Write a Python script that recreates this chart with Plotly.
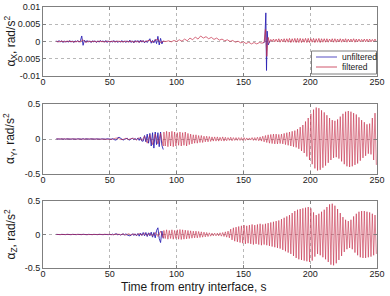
import numpy as np
import plotly.graph_objects as go

# ---------------- data ----------------
# alpha_X, rad/s^2
x_unf_t0, x_unf_dt = 10, 1.0
x_unf_pre = [0.0002, -0.0002, 0.0003, -0.0001, 0.0002, -0.0003, 0.0002, -0.0002, 0.0001, -0.0002,
             0.0003, -0.0002, 0.0002, -0.0003, 0.0002, -0.0001, 0.0003, -0.0002, 0.0002,
             0.0016, -0.0011, 0.0004,
             -0.0002, 0.0003, -0.0002, 0.0002, -0.0003, 0.0002, -0.0001, 0.0002, -0.0003, 0.0002,
             -0.0002, 0.0003, -0.0001, 0.0002, -0.0002, 0.0003, -0.0003, 0.0002, -0.0002, 0.0001,
             -0.0002, 0.0003, -0.0002, 0.0002, -0.0003, 0.0001, -0.0002, 0.0003, -0.0002, 0.0002,
             -0.0003, 0.0002, -0.0002, 0.0004, -0.0003, 0.0002, -0.0004, 0.0003, -0.0002, 0.0003,
             -0.0003, 0.0004, -0.0002, 0.0003, -0.0004, 0.0002, -0.0003, 0.0004,
             0.0008, -0.0005, 0.0003, -0.0004, 0.0006, -0.0006, 0.0015, -0.0010, 0.0009, -0.0007, 0.0002]
x_unf_spike_t = [165, 166, 166.8, 167.3, 167.8, 168.5, 170]
x_unf_spike = [-0.0005, 0.0, 0.0083, -0.0084, 0.0030, -0.0010, 0.0002]

x_fil_t0, x_fil_dt = 10, 2.0
x_fil_pre = [0.0001, -0.0001, 0.0001, -0.0001, 0.0001, 0.0, 0.0001, -0.0001, 0.0001, -0.0001,
             0.0005, -0.0003, 0.0001, -0.0001, 0.0001, -0.0001, 0.0001, 0.0, -0.0001, 0.0001,
             -0.0001, 0.0001, -0.0001, 0.0001, 0.0, -0.0001, 0.0001, -0.0001, 0.0001, -0.0002,
             0.0001, -0.0002, 0.0002, -0.0001, 0.0002, 0.0003, -0.0002, 0.0004, 0.0006, -0.0003,
             0.0001, 0.0, 0.0002, -0.0001, 0.0003, 0.0, 0.0005, 0.0001, 0.0007, 0.0002,
             0.0010, 0.0005, 0.0013, 0.0007, 0.0016, 0.0010, 0.0014, 0.0008, 0.0012, 0.0006,
             0.0010, 0.0004, 0.0007, 0.0002, 0.0005, 0.0, 0.0003, -0.0002, 0.0001, -0.0004,
             -0.0001, -0.0006, -0.0002, -0.0007, -0.0003, -0.0007, -0.0003, -0.0005]
x_fil_spike_t = [165.5, 166.5, 167.5, 168.5, 169.5]
x_fil_spike = [-0.0002, 0.0035, -0.0043, 0.0012, -0.0003]
x_osc_start, x_osc_period, x_osc_mean = 170, 2.0, 0.0003
x_osc_amp = [0.0003, 0.0004, 0.0004, 0.0005, 0.0004, 0.0005, 0.0005, 0.0006, 0.0005, 0.0006,
             0.0006, 0.0006, 0.0005, 0.0006, 0.0006, 0.0005, 0.0006, 0.0005, 0.0006, 0.0005,
             0.0005, 0.0005, 0.0004, 0.0005, 0.0005, 0.0004, 0.0005, 0.0004, 0.0005, 0.0004,
             0.0004, 0.0005, 0.0004, 0.0004, 0.0003, 0.0004, 0.0004, 0.0004, 0.0003, 0.0004]

# alpha_Y, rad/s^2
y_unf_pre = [0.002, -0.003, 0.003, -0.002, 0.004, -0.003, 0.002, -0.004, 0.003, -0.002,
             0.003, -0.003, 0.002, -0.002, 0.004, -0.003, 0.003, -0.002, 0.002, -0.003,
             0.005, -0.004, 0.003, -0.002, 0.002, -0.003, 0.003, -0.002, 0.004, -0.003,
             0.002, -0.002, 0.003, -0.003, 0.002, -0.002, 0.004, -0.003, 0.003, -0.002,
             0.003, -0.004, 0.006, -0.008, -0.015, -0.012, 0.018, 0.025, 0.010, -0.010,
             -0.015, -0.006, 0.008, 0.012, -0.010, -0.014, 0.004, 0.010, -0.008, 0.006,
             -0.010, 0.015, -0.020, 0.025, -0.030, -0.030, 0.050, -0.040, 0.070, -0.060,
             0.080, -0.100, 0.090, -0.130, 0.100, -0.080, 0.090, -0.110, 0.100, -0.090, -0.150]
y_fil_pre = [0.001, 0.0, -0.001, 0.001, 0.0, -0.001, 0.001, 0.0, -0.001, 0.001,
             0.0, -0.001, 0.001, 0.0, -0.001, 0.001, 0.0, -0.001, 0.001, 0.0,
             0.002, -0.005, 0.010, 0.015, -0.008, -0.005, 0.010, -0.006, 0.005, 0.010,
             -0.015, 0.020, -0.020, 0.040, -0.060, 0.060, -0.080, 0.070, -0.070, 0.080, -0.100]
y_osc_start, y_osc_period = 90, 2.0
y_osc_amp = [0.10, 0.11, 0.10, 0.11, 0.10, 0.09, 0.10, 0.09, 0.10, 0.08,
             0.07, 0.06, 0.06, 0.05, 0.05, 0.04, 0.04, 0.035, 0.03, 0.03,
             0.03, 0.025, 0.03, 0.025, 0.02, 0.025, 0.02, 0.02, 0.02, 0.02,
             0.02, 0.015, 0.015, 0.02, 0.02, 0.025, 0.03, 0.04, 0.05, 0.06,
             0.065, 0.07, 0.07, 0.065, 0.07, 0.08, 0.09, 0.10, 0.11, 0.12,
             0.14, 0.17, 0.20, 0.25, 0.30, 0.36, 0.42, 0.45, 0.44, 0.41,
             0.38, 0.34, 0.30, 0.27, 0.26, 0.28, 0.32, 0.36, 0.39, 0.40,
             0.39, 0.37, 0.35, 0.31, 0.27, 0.24, 0.21, 0.22, 0.30, 0.37]

# alpha_Z, rad/s^2
z_unf_pre = [0.002, -0.002, 0.003, -0.002, 0.002, -0.003, 0.002, -0.002, 0.003, -0.002,
             0.002, -0.003, 0.002, -0.002, 0.003, -0.002, 0.002, -0.003, 0.002, -0.002,
             0.003, -0.002, 0.002, -0.003, 0.002, -0.002, 0.003, -0.002, 0.002, -0.003,
             0.002, -0.002, 0.003, -0.002, 0.002, -0.003, 0.002, -0.002, 0.003, -0.002,
             0.002, -0.004, 0.006, -0.005, 0.008, 0.010, -0.006, 0.004, -0.008, 0.006,
             0.010, -0.010, 0.012, -0.008, -0.015, -0.020, -0.010, 0.012, -0.015, 0.010,
             -0.020, 0.015, -0.025, 0.020, -0.015, 0.030, -0.020, 0.030, -0.030, 0.025,
             -0.020, 0.035, -0.040, 0.030, -0.050, 0.060, 0.100, -0.060, -0.120, 0.050, -0.060]
z_fil_pre = [0.0, 0.001, -0.001, 0.0, 0.001, -0.001, 0.0, 0.001, -0.001, 0.0,
             0.001, -0.001, 0.0, 0.001, -0.001, 0.0, 0.001, -0.001, 0.0, 0.001,
             0.002, -0.003, 0.004, 0.006, -0.004, 0.008, -0.010, 0.012, -0.008, 0.010,
             -0.012, 0.015, -0.010, 0.018, -0.015, 0.020, -0.025, 0.030, -0.030, 0.050, -0.050]
z_osc_start, z_osc_period = 90, 2.0
z_osc_amp = [0.06, 0.07, 0.06, 0.07, 0.06, 0.07, 0.075, 0.07, 0.065, 0.06,
             0.055, 0.05, 0.05, 0.045, 0.04, 0.035, 0.03, 0.025, 0.02, 0.02,
             0.02, 0.025, 0.03, 0.04, 0.05, 0.08, 0.10, 0.11, 0.12, 0.13,
             0.14, 0.13, 0.14, 0.15, 0.14, 0.15, 0.16, 0.15, 0.16, 0.17,
             0.18, 0.19, 0.20, 0.21, 0.23, 0.25, 0.27, 0.29, 0.32, 0.35,
             0.37, 0.38, 0.39, 0.40, 0.41, 0.39, 0.33, 0.29, 0.31, 0.34,
             0.37, 0.41, 0.45, 0.46, 0.43, 0.38, 0.32, 0.26, 0.22, 0.20,
             0.22, 0.27, 0.31, 0.34, 0.35, 0.35, 0.34, 0.33, 0.31, 0.29]

x_ticks = [0, 50, 100, 150, 200, 250]
yx_ticks = [-0.01, -0.005, 0, 0.005, 0.01]
yx_ticktext = ['-0.01', '-0.005', '0', '0.005', '0.01']
yyz_ticks = [-0.5, 0, 0.5]
yyz_ticktext = ['-0.5', '0', '0.5']
y_titles = ['α<sub>X</sub>, rad/s<sup>2</sup>', 'α<sub>Y</sub>, rad/s<sup>2</sup>', 'α<sub>Z</sub>, rad/s<sup>2</sup>']
x_title = 'Time from entry interface, s'
names = ['unfiltered', 'filtered']

# ---------------- build series ----------------
def grid(t0, dt, n):
    return list(t0 + dt * np.arange(n))

def osc(start, period, amps, mean=0.0):
    t, v = [], []
    for k, a in enumerate(amps):
        c = start + period * k
        t += [c + period * 0.25, c + period * 0.75]
        v += [mean + a, mean - a]
    return t, v

COL_UNF = '#2c22b4'
COL_FIL = '#c42c48'

fig = go.Figure()

# X
xt_u = grid(x_unf_t0, x_unf_dt, len(x_unf_pre)) + [None] + x_unf_spike_t
xv_u = x_unf_pre + [None] + x_unf_spike
ot, ov = osc(x_osc_start, x_osc_period, x_osc_amp, x_osc_mean)
xt_f = grid(x_fil_t0, x_fil_dt, len(x_fil_pre)) + x_fil_spike_t + ot
xv_f = x_fil_pre + x_fil_spike + ov
fig.add_trace(go.Scatter(x=xt_u, y=xv_u, mode='lines', name=names[0], line=dict(color=COL_UNF, width=0.9),
                         xaxis='x', yaxis='y', showlegend=False))
fig.add_trace(go.Scatter(x=xt_f, y=xv_f, mode='lines', name=names[1], line=dict(color=COL_FIL, width=0.7),
                         xaxis='x', yaxis='y', showlegend=False))

# Y and Z
for (unf, fil, st, per, amps, ax) in [(y_unf_pre, y_fil_pre, y_osc_start, y_osc_period, y_osc_amp, '2'),
                                      (z_unf_pre, z_fil_pre, z_osc_start, z_osc_period, z_osc_amp, '3')]:
    tu = grid(10, 1.0, len(unf))
    ot, ov = osc(st, per, amps)
    tf = grid(10, 2.0, len(fil)) + ot
    vf = fil + ov
    fig.add_trace(go.Scatter(x=tu, y=unf, mode='lines', showlegend=False, line=dict(color=COL_UNF, width=0.9),
                             xaxis='x' + ax, yaxis='y' + ax))
    fig.add_trace(go.Scatter(x=tf, y=vf, mode='lines', showlegend=False, line=dict(color=COL_FIL, width=0.6),
                             xaxis='x' + ax, yaxis='y' + ax))

W, H = 390, 296
xdom = [43 / W, 377 / W]
ydoms = [[1 - 76 / H, 1 - 7 / H], [1 - 174 / H, 1 - 104 / H], [1 - 268 / H, 1 - 201 / H]]

FONT = 'Liberation Sans, Arial, sans-serif'
common = dict(showline=True, mirror='ticks', linecolor='#7f7f7f', linewidth=1,
              ticks='inside', ticklen=3, tickcolor='#7f7f7f',
              showgrid=True, gridcolor='#b8b8b8', griddash='dot', gridwidth=1,
              zeroline=False, automargin=False,
              tickfont=dict(family=FONT, size=9, color='#1a1a1a'))

lay = dict(width=W, height=H, margin=dict(l=0, r=0, t=0, b=0),
           paper_bgcolor='white', plot_bgcolor='white', font=dict(family=FONT),
           showlegend=False)
yranges = [[-0.01, 0.01], [-0.5, 0.5], [-0.5, 0.5]]
yticks = [(yx_ticks, yx_ticktext), (yyz_ticks, yyz_ticktext), (yyz_ticks, yyz_ticktext)]
for i in range(3):
    s = '' if i == 0 else str(i + 1)
    lay['xaxis' + s] = dict(common, domain=xdom, range=[0, 250], tickvals=x_ticks,
                            anchor='y' + s, ticklabelstandoff=-3)
    lay['yaxis' + s] = dict(common, domain=ydoms[i], range=yranges[i], tickvals=yticks[i][0],
                            ticktext=yticks[i][1], anchor='x' + s)
fig.update_layout(**lay)

ann = []
for i in range(3):
    ann.append(dict(text=y_titles[i], x=10 / W, y=(ydoms[i][0] + ydoms[i][1]) / 2, xref='paper', yref='paper',
                    xanchor='center', yanchor='middle', textangle=-90, showarrow=False,
                    font=dict(family=FONT, size=12, color='#1a1a1a')))
ann.append(dict(text=x_title, x=194 / W, y=1 - 286.5 / H, xref='paper', yref='paper',
                xanchor='center', yanchor='middle', showarrow=False,
                font=dict(family=FONT, size=12, color='#1a1a1a')))

# legend box (drawn by hand to match the compact MATLAB legend)
shapes = [dict(type='rect', xref='paper', yref='paper', x0=311.5 / W, x1=376.5 / W,
               y0=1 - 74 / H, y1=1 - 51 / H, line=dict(color='#7f7f7f', width=1), fillcolor='white', layer='above')]
for j, (nm, col, yy) in enumerate([(names[0], COL_UNF, 57), (names[1], COL_FIL, 67)]):
    shapes.append(dict(type='line', xref='paper', yref='paper', x0=316 / W, x1=337 / W,
                       y0=1 - yy / H, y1=1 - yy / H, line=dict(color=col, width=0.8), layer='above'))
    ann.append(dict(text=nm, x=340 / W, y=1 - yy / H, xref='paper', yref='paper',
                    xanchor='left', yanchor='middle', showarrow=False,
                    font=dict(family=FONT, size=8.5, color='#1a1a1a')))
fig.update_layout(annotations=ann, shapes=shapes)

fig.write_html('out.html')
